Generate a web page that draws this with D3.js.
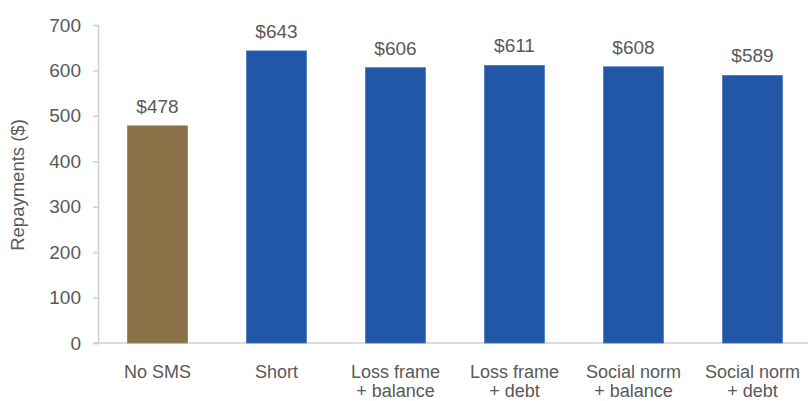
<!DOCTYPE html>
<html>
<head>
<meta charset="utf-8">
<script src="https://cdn.jsdelivr.net/npm/d3@7"></script>
<style>
  html, body { margin: 0; padding: 0; background: #fff; }
  svg { display: block; }
  text { font-family: "Liberation Sans", Arial, sans-serif; fill: #595959; }
</style>
</head>
<body>
<svg id="chart" width="810" height="401"></svg>
<script>
// Repayments by SMS treatment
const categories = [
  ["No SMS"],
  ["Short"],
  ["Loss frame", "+ balance"],
  ["Loss frame", "+ debt"],
  ["Social norm", "+ balance"],
  ["Social norm", "+ debt"]
];
const repayments = [478, 643, 606, 611, 608, 589];
const yTicks = [0, 100, 200, 300, 400, 500, 600, 700];

const svg = d3.select("#chart");
const keys = categories.map(c => c.join(" "));

const x = d3.scaleBand()
  .domain(keys)
  .range([98, 812])
  .paddingInner(0.496)
  .paddingOuter(0.248);

const y = d3.scaleLinear()
  .domain([0, 700])
  .range([343, 25]);

// Y axis
const yAxis = svg.append("g")
  .attr("transform", "translate(98,0)")
  .call(d3.axisLeft(y).tickValues(yTicks).tickSize(5).tickPadding(12).tickFormat(d3.format("d")));
yAxis.select(".domain").attr("stroke", "#d0d0d0").attr("stroke-width", 1.5);
yAxis.selectAll(".tick line").attr("stroke", "#d0d0d0").attr("stroke-width", 1.5);
yAxis.selectAll(".tick text")
  .attr("fill", "#595959")
  .style("font-size", "19px");

// Baseline
svg.append("line")
  .attr("x1", 93).attr("x2", 808)
  .attr("y1", y(0)).attr("y2", y(0))
  .attr("stroke", "#d0d0d0").attr("stroke-width", 1.5);

// Bars
svg.append("g").selectAll("rect")
  .data(repayments)
  .join("rect")
  .attr("x", (d, i) => x(keys[i]))
  .attr("width", x.bandwidth())
  .attr("y", d => y(d))
  .attr("height", d => y(0) - y(d))
  .attr("fill", (d, i) => i === 0 ? "#8A7047" : "#2157A6")
  .attr("stroke", (d, i) => i === 0 ? "#9c8560" : "#4a78bb")
  .attr("stroke-width", 0.8);

// Value labels
svg.append("g").selectAll("text")
  .data(repayments)
  .join("text")
  .attr("x", (d, i) => x(keys[i]) + x.bandwidth() / 2)
  .attr("y", d => y(d) - 13)
  .attr("text-anchor", "middle")
  .style("font-size", "19px")
  .text(d => "$" + d);

// Category labels (two lines where needed)
const catG = svg.append("g").selectAll("text")
  .data(categories)
  .join("text")
  .attr("x", (d, i) => x(keys[i]) + x.bandwidth() / 2)
  .attr("y", 378)
  .attr("text-anchor", "middle")
  .style("font-size", "18px");
catG.selectAll("tspan")
  .data(d => d)
  .join("tspan")
  .attr("x", function() { return d3.select(this.parentNode).attr("x"); })
  .attr("dy", (d, i) => i === 0 ? 0 : 18.5)
  .text(d => d);

// Y axis title
svg.append("text")
  .attr("transform", "translate(24,185) rotate(-90)")
  .attr("text-anchor", "middle")
  .style("font-size", "18.5px")
  .text("Repayments ($)");
</script>
</body>
</html>
